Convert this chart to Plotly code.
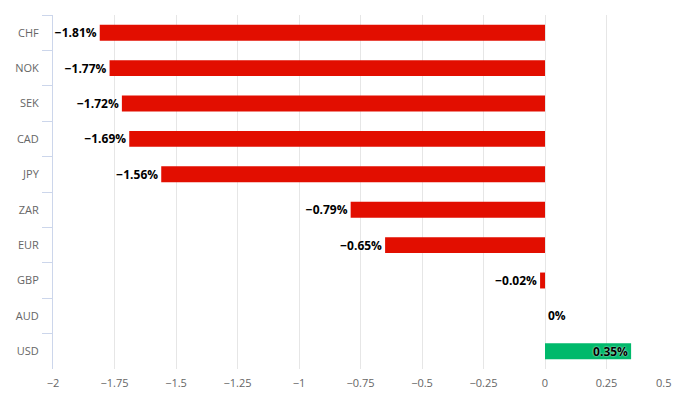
import plotly.graph_objects as go

currencies = ["CHF", "NOK", "SEK", "CAD", "JPY", "ZAR", "EUR", "GBP", "AUD", "USD"]
changes = [-1.81, -1.77, -1.72, -1.69, -1.56, -0.79, -0.65, -0.02, 0, 0.35]
x_ticks = [-2, -1.75, -1.5, -1.25, -1, -0.75, -0.5, -0.25, 0, 0.25, 0.5]

RED = "#e20e00"
GREEN = "#00b96b"

colors = [GREEN if v > 0 else RED for v in changes]
labels = [("{:g}%".format(v)).replace("-", "\u2212") for v in changes]
positions = ["inside" if v > 0 else "outside" for v in changes]

tick_text = [("{:g}".format(t)).replace("-", "\u2212") for t in x_ticks]
tick_text[-1] = tick_text[-1] + "\u00a0" * 3

fig = go.Figure(go.Bar(
    x=changes,
    y=currencies,
    orientation="h",
    marker=dict(color=colors, line=dict(width=0)),
    text=labels,
    textposition=positions,
    insidetextanchor="end",
    textangle=0,
    cliponaxis=False,
    textfont=dict(family="Open Sans, sans-serif", size=12, color="#000000",
                  weight="bold", shadow="0px 0px 2px #ffffff"),
    constraintext="none",
))

fig.update_layout(
    width=682, height=398,
    margin=dict(l=53, r=14, t=15, b=29, autoexpand=False),
    paper_bgcolor="white", plot_bgcolor="white",
    bargap=0.55,
    showlegend=False,
    font=dict(family="Open Sans, DejaVu Sans, sans-serif", size=11, color="#666666"),
)
fig.update_xaxes(
    range=[-2, 0.5],
    tickvals=x_ticks,
    ticktext=tick_text,
    showgrid=True, gridcolor="#e6e6e6", gridwidth=1,
    zeroline=False, showline=False, ticks="",
    automargin=False, ticklabeloverflow="allow", ticklabelstandoff=6,
    tickfont=dict(size=11, color="#666666"),
)
fig.update_yaxes(
    categoryorder="array", categoryarray=currencies, autorange="reversed",
    tickson="boundaries", ticks="outside", ticklen=10, tickcolor="#ccd6eb",
    showline=True, linecolor="#ccd6eb", linewidth=1,
    showgrid=False, zeroline=False, automargin=False, ticklabelstandoff=11,
    tickfont=dict(size=11, color="#666666"),
)

fig.write_html("out.html", config={"displayModeBar": False},
               post_script="document.body.style.margin='0';")
